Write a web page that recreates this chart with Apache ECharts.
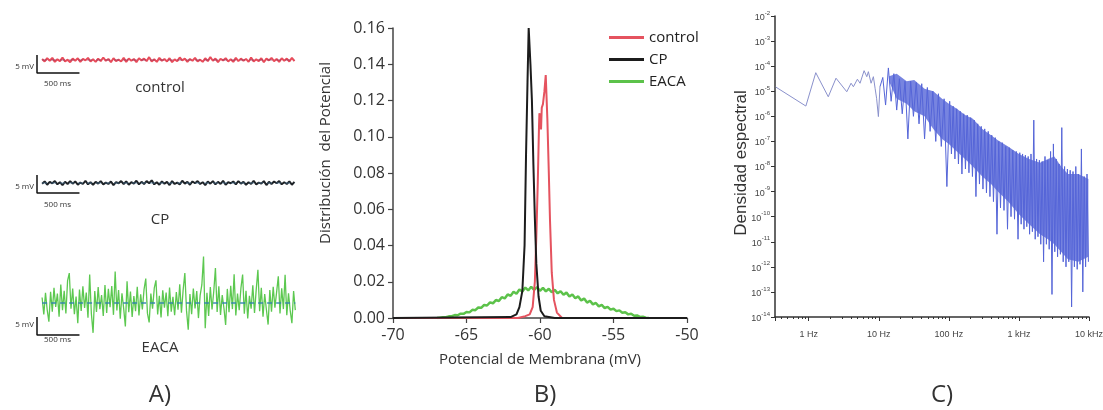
<!DOCTYPE html>
<html lang="es">
<head>
<meta charset="UTF-8">
<title>Potencial de membrana</title>
<script src="https://cdn.jsdelivr.net/npm/echarts@6/dist/echarts.min.js"></script>
<style>
  html, body { margin: 0; background: #fff; }
  #main { width: 1103px; height: 410px; }
</style>
</head>
<body>
<div id="main"></div>
<script>
// A) trazos de voltaje, mV respecto a la media (una muestra cada step ms)
var controlTrace = [
  0.3,-0.4,0.5,-0.2,0.6,-0.5,0.2,-0.3,0.7,-0.4,0.1,-0.6,0.4,-0.2,0.5,-0.5,0.3,-0.1,0.6,-0.4,
  0.2,-0.5,0.4,-0.3,0.7,-0.2,0.3,-0.6,0.5,-0.3,0.1,-0.4,0.6,-0.5,0.4,-0.2,0.3,-0.6,0.5,-0.1,
  0.4,-0.3,0.8,-0.4,0.2,-0.5,0.6,-0.2,0.3,-0.4,0.5,-0.6,0.2,-0.3,0.7,-0.1,0.4,-0.5,0.3,-0.2,
  0.6,-0.4,0.1,-0.5,0.5,-0.3,0.8,-0.2,0.4,-0.6,0.3,-0.1,0.5,-0.4,0.2,-0.5,0.6,-0.3,0.4,-0.2,
  0.3,-0.5,0.7,-0.4,0.2,-0.3,0.5,-0.6,0.4,-0.1,0.6,-0.3,0.3,-0.5,0.5,-0.2,0.4,-0.4,0.6,-0.3
];
var cpTrace = [
  -0.2,0.4,-0.5,0.3,-0.1,0.5,-0.4,0.2,-0.6,0.3,-0.3,0.5,-0.2,0.4,-0.5,0.1,-0.3,0.6,-0.4,0.2,
  -0.5,0.3,-0.2,0.5,-0.4,0.1,-0.3,0.4,-0.6,0.2,-0.1,0.5,-0.3,0.4,-0.5,0.2,-0.2,0.6,-0.4,0.3,
  -0.3,0.5,-0.1,0.7,-0.4,0.2,-0.5,0.4,-0.2,0.3,-0.6,0.5,-0.3,0.1,-0.4,0.6,-0.2,0.3,-0.5,0.4,
  -0.1,0.5,-0.3,0.2,-0.6,0.4,-0.2,0.5,-0.4,0.3,-0.3,0.6,-0.5,0.2,-0.1,0.4,-0.4,0.5,-0.2,0.3,
  -0.5,0.2,-0.3,0.6,-0.4,0.1,-0.2,0.5,-0.6,0.3,-0.3,0.4,-0.1,0.5,-0.4,0.2,-0.3,0.4,-0.5,0.3
];
var eacaTrace = [
  1.5,-3.2,2.8,-1.9,-5.2,3.1,-2.4,4.2,-1.1,2.6,-3.8,5.1,-2.0,3.4,-2.9,
  6.2,8.3,-1.6,4.0,-3.1,1.8,-5.6,3.7,-2.2,4.6,-1.4,2.9,-4.1,7.9,-3.0,
  -8.3,3.3,-2.5,4.4,-1.7,2.2,-3.6,5.0,-2.8,3.9,-1.2,4.7,-3.3,8.7,-2.1,
  3.6,-4.4,2.7,-1.5,-6.5,6.0,-2.6,3.2,-3.9,1.9,-2.3,4.5,-3.5,2.4,-1.8,
  3.8,6.8,-2.9,-5.4,2.6,-1.6,4.1,6.3,-3.2,2.0,-4.0,3.5,-1.3,2.9,-3.7,
  4.3,-2.4,1.7,-3.4,3.0,-1.9,5.2,-2.7,3.6,8.3,-2.2,-7.4,2.5,-3.1,4.0,
  -1.5,3.3,-4.2,2.1,5.0,12.9,-7.0,2.8,-3.6,4.4,-1.8,3.1,9.7,-2.5,4.6,
  -3.3,2.2,-1.4,-6.1,3.9,-2.6,4.8,-1.7,8.0,-3.5,2.6,-2.0,4.1,7.9,-3.0,
  3.4,-4.3,2.0,-1.6,4.9,-2.8,3.7,9.2,-2.3,4.2,-3.8,2.5,-1.9,-6.0,3.6,
  -2.4,4.5,-1.3,3.0,7.4,-2.9,4.1,-1.7,7.8,-3.4,2.7,-2.1,-5.6,3.3,-2.0
];
var traceNames = ['control', 'CP', 'EACA'];

// B) distribucion del potencial [mV, probabilidad]
var controlDist = [
  [-70,0],[-61.5,0],[-61.0,0.001],[-60.7,0.002],[-60.5,0.006],[-60.35,0.02],[-60.25,0.045],
  [-60.15,0.075],[-60.07,0.105],[-60.04,0.113],[-59.98,0.108],[-59.93,0.104],[-59.88,0.116],
  [-59.8,0.118],[-59.7,0.125],[-59.61,0.134],[-59.5,0.11],[-59.4,0.08],[-59.32,0.054],
  [-59.2,0.025],[-59.05,0.01],[-58.85,0.003],[-58.5,0],[-50,0]
];
var cpDist = [
  [-70,0],[-62,0.0005],[-61.6,0.002],[-61.4,0.006],[-61.2,0.015],[-61.05,0.04],[-60.95,0.09],
  [-60.85,0.13],[-60.77,0.16],[-60.65,0.14],[-60.55,0.12],[-60.45,0.085],[-60.35,0.055],
  [-60.25,0.03],[-60.1,0.012],[-59.95,0.004],[-59.7,0.001],[-59,0],[-50,0]
];
var eacaDist = [
  [-67.0,0.0000],[-66.8,0.0002],[-66.6,0.0004],[-66.4,0.0004],[-66.2,0.0009],[-66.0,0.0010],
  [-65.8,0.0016],[-65.6,0.0015],[-65.4,0.0024],[-65.2,0.0023],[-65.0,0.0033],[-64.8,0.0031],
  [-64.6,0.0045],[-64.4,0.0043],[-64.2,0.0058],[-64.0,0.0056],[-63.8,0.0072],[-63.6,0.0069],
  [-63.4,0.0086],[-63.2,0.0081],[-63.0,0.0099],[-62.8,0.0094],[-62.6,0.0115],[-62.4,0.0108],
  [-62.2,0.0130],[-62.0,0.0122],[-61.8,0.0145],[-61.6,0.0134],[-61.4,0.0157],[-61.2,0.0146],
  [-61.0,0.0168],[-60.8,0.0152],[-60.6,0.0172],[-60.4,0.0155],[-60.2,0.0170],[-60.0,0.0150],
  [-59.8,0.0166],[-59.6,0.0147],[-59.4,0.0161],[-59.2,0.0142],[-59.0,0.0156],[-58.8,0.0136],
  [-58.6,0.0148],[-58.4,0.0128],[-58.2,0.0140],[-58.0,0.0119],[-57.8,0.0130],[-57.6,0.0109],
  [-57.4,0.0119],[-57.2,0.0097],[-57.0,0.0107],[-56.8,0.0085],[-56.6,0.0095],[-56.4,0.0075],
  [-56.2,0.0083],[-56.0,0.0064],[-55.8,0.0072],[-55.6,0.0055],[-55.4,0.0061],[-55.2,0.0046],
  [-55.0,0.0051],[-54.8,0.0038],[-54.6,0.0042],[-54.4,0.0029],[-54.2,0.0032],[-54.0,0.0020],
  [-53.8,0.0023],[-53.6,0.0012],[-53.4,0.0014],[-53.2,0.0006],[-53.0,0.0007],[-52.8,0.0002],
  [-52.6,0.0000]
];

// C) densidad espectral [Hz, log10(densidad)]
var psdLow = [
  [0.338,-4.83],[0.91,-5.59],[1.26,-4.26],[1.9,-5.22],[2.45,-4.48],[3.49,-5.02],[4.02,-4.68],
  [4.34,-4.82],[4.95,-4.52],[5.4,-4.68],[6.17,-4.18],[6.74,-4.42],[7.1,-4.22],[7.76,-4.68],
  [8.37,-4.42],[8.85,-4.88],[9.3,-5.28],[9.87,-6.01],[10.4,-4.82]
];
var psdHigh = [
  [10.4,-4.82],
  [11.4,-4.45],[12.5,-5.55],[13.7,-4.07],[15.0,-5.4],[16.4,-4.3],[18.0,-5.75],[19.7,-4.5],
  [21.6,-5.9],[23.7,-4.6],[26.0,-6.9],[28.5,-4.6],[31.2,-6.0],[34.2,-4.65],[37.5,-6.3],
  [41.0,-4.7],[45.0,-6.9],[49.3,-4.85],[54.0,-6.6],[59.0,-5.0],[65.0,-7.0],[71.0,-5.1],
  [78.0,-7.2],[85.5,-5.3],[93.7,-8.8],[102.7,-5.4],
  [108.8,-7.5],[115.2,-5.6],[122,-7.7],[129.3,-5.7],[137,-7.9],[145,-5.8],[153.6,-8.3],
  [162.7,-5.9],[172.4,-8.1],[182.6,-5.95],[193.4,-8.25],[204.9,-6.05],[217,-8.4],[229.9,-6.15],
  [243.5,-9.2],[258,-6.3],[273.3,-8.7],[289.5,-6.4],[306.6,-8.9],[324.8,-6.5],[344,-9.05],
  [364.5,-6.6],[386,-9.2],[409,-6.75],[433,-9.4],[459,-6.85],[486,-10.7],[515,-7.0],
  [545.6,-9.65],[578,-7.05],[612,-9.75],[648.6,-7.2],[687,-10.5],[727.7,-7.25],[770.9,-10.0],
  [816.6,-7.35],[865,-10.1],[916,-7.4],[970.5,-10.9],[1028,-7.45],
  [1076,-10.3],[1127,-7.5],[1180,-10.5],[1236,-7.55],[1294,-10.4],[1355,-7.6],[1419,-10.7],
  [1486,-7.5],[1556,-10.6],[1629,-6.15],[1706,-10.9],[1786,-7.7],[1870,-10.8],[1958,-7.75],
  [2050,-11.1],[2147,-7.8],[2248,-11.8],[2354,-7.6],[2465,-11.1],[2581,-7.75],[2703,-11.3],
  [2830,-7.4],[2963,-13.1],[3103,-7.1],[3249,-11.4],[3402,-7.7],[3562,-11.6],[3730,-7.9],
  [3906,-11.5],[4090,-6.45],[4282,-11.8],[4484,-8.0],[4695,-12.0],[4917,-8.1],[5148,-11.8],
  [5391,-8.15],[5645,-13.6],[5911,-8.2],[6189,-12.0],[6481,-8.0],[6786,-12.1],[7106,-8.3],
  [7441,-11.9],[7791,-7.3],[8158,-13.0],[8543,-8.4],[8945,-12.0],[9367,-8.3],[9808,-11.8]
];
// bordes de la banda densa del espectro [Hz, log10(densidad)]
var psdCoreTop = [
  [14,-4.4],[18,-4.3],[25,-4.6],[32,-4.55],[45,-4.9],[60,-5.0],[80,-5.3],[100,-5.5],[130,-5.7],
  [170,-5.95],[220,-6.1],[300,-6.5],[400,-6.75],[500,-6.95],[700,-7.2],[1000,-7.5],[1400,-7.7],
  [2000,-7.85],[2600,-7.7],[3200,-7.6],[4000,-8.0],[5000,-8.3],[7000,-8.3],[9800,-8.5]
];
var psdCoreBottom = [
  [14,-4.6],[18,-5.3],[25,-5.5],[32,-5.8],[45,-6.0],[60,-6.5],[80,-6.9],[100,-7.1],[130,-7.4],
  [170,-7.7],[220,-8.0],[300,-8.4],[400,-8.7],[500,-9.0],[700,-9.4],[1000,-9.9],[1400,-10.3],
  [2000,-10.7],[2600,-10.9],[3200,-11.1],[4000,-11.4],[5000,-11.7],[7000,-11.8],[9800,-11.6]
];
var freqLabels = ['1 Hz', '10 Hz', '100 Hz', '1 kHz', '10 kHz'];

var FONT = 'Open Sans';
var chart = echarts.init(document.getElementById('main'));

// panel A: una rejilla por trazo
var traces = [
  { data: controlTrace, step: 30, base: 3.6, color: '#e84c5a', mean: '#8a3a66', width: 2, top: 51.4, h: 25.2, ymax: 6 },
  { data: cpTrace, step: 30, base: 2.8, color: '#1e2226', mean: '#4d7fa3', width: 2, top: 171.4, h: 25.2, ymax: 6 },
  { data: eacaTrace, step: 20, base: 8.9, color: '#5cc850', mean: '#2f7fb0', width: 1.3, top: 252.2, h: 86.4, ymax: 23 }
];
var grids = [], xAxes = [], yAxes = [], series = [], graphics = [];
var labelY = [[66.5, 83.5, 88], [186.5, 204.5, 220], [325, 340, 348]];

traces.forEach(function (t, k) {
  grids.push({ left: 37, top: t.top, width: 260, height: t.h, outerBoundsMode: 'none' });
  xAxes.push({ gridIndex: k, type: 'value', min: -60, max: 3000, show: false });
  yAxes.push({ gridIndex: k, type: 'value', min: -1, max: t.ymax, show: false });
  var end = (t.data.length - 1) * t.step;
  series.push({
    type: 'line', xAxisIndex: k, yAxisIndex: k, symbol: 'none', z: 2,
    lineStyle: { color: t.color, width: t.width },
    data: t.data.map(function (v, i) { return [i * t.step, v + t.base]; })
  });
  series.push({
    type: 'line', xAxisIndex: k, yAxisIndex: k, symbol: 'none', z: 3,
    lineStyle: { color: t.mean, width: 1.5, type: [5, 4], opacity: k === 2 ? 0.9 : 0.45 },
    data: [[0, t.base], [end, t.base]]
  });
  // barra de escala 5 mV / 500 ms
  series.push({
    type: 'line', xAxisIndex: k, yAxisIndex: k, symbol: 'none', z: 4,
    lineStyle: { color: '#111', width: 1.5 },
    data: [[-60, 5], [-60, 0], [440, 0]]
  });
  graphics.push({ type: 'text', x: 34, y: labelY[k][0], style: { text: '5 mV', font: '8px ' + FONT, fill: '#333', align: 'right', verticalAlign: 'middle' } });
  graphics.push({ type: 'text', x: 44, y: labelY[k][1], style: { text: '500 ms', font: '8px ' + FONT, fill: '#333', align: 'left', verticalAlign: 'middle' } });
  graphics.push({ type: 'text', x: 160, y: labelY[k][2], style: { text: traceNames[k], font: '15px ' + FONT, fill: '#333', align: 'center', verticalAlign: 'middle' } });
});

// panel B
grids.push({ left: 393, top: 28, width: 294, height: 290, outerBoundsMode: 'none' });
xAxes.push({
  gridIndex: 3, type: 'value', min: -70, max: -50, interval: 5,
  name: 'Potencial de Membrana (mV)', nameLocation: 'middle', nameGap: 34,
  nameTextStyle: { fontFamily: FONT, fontSize: 15, color: '#333' },
  axisLine: { lineStyle: { color: '#444', width: 1.5 } },
  axisTick: { length: 5, lineStyle: { color: '#444', width: 1.2 } },
  axisLabel: { fontFamily: FONT, fontSize: 16, color: '#333', margin: 9 },
  splitLine: { show: false }
});
yAxes.push({
  gridIndex: 3, type: 'value', min: 0, max: 0.16, interval: 0.02,
  axisLine: { show: true, lineStyle: { color: '#444', width: 1.5 } },
  axisTick: { show: true, length: 5, lineStyle: { color: '#444', width: 1.2 } },
  axisLabel: { fontFamily: FONT, fontSize: 16, color: '#333', margin: 8,
    formatter: function (v) { return v.toFixed(2); } },
  splitLine: { show: false }
});
series.push({ name: 'EACA', type: 'line', xAxisIndex: 3, yAxisIndex: 3, symbol: 'none',
  lineStyle: { color: '#5cc24a', width: 2.5 }, itemStyle: { color: '#5cc24a' }, data: eacaDist });
series.push({ name: 'control', type: 'line', xAxisIndex: 3, yAxisIndex: 3, symbol: 'none',
  lineStyle: { color: '#e5535f', width: 2 }, itemStyle: { color: '#e5535f' }, data: controlDist });
series.push({ name: 'CP', type: 'line', xAxisIndex: 3, yAxisIndex: 3, symbol: 'none',
  lineStyle: { color: '#1c1c1c', width: 2 }, itemStyle: { color: '#1c1c1c' }, data: cpDist });
graphics.push({ type: 'text', x: 326, y: 153, rotation: Math.PI / 2,
  style: { text: 'Distribución  del Potencial', font: '15px ' + FONT, fill: '#333', align: 'center', verticalAlign: 'middle' } });

// panel C
grids.push({ left: 775, top: 16, width: 314, height: 301, outerBoundsMode: 'none' });
xAxes.push({
  gridIndex: 4, type: 'log', logBase: 10, min: 0.33, max: 10000,
  axisLine: { lineStyle: { color: '#333', width: 1.5 } },
  axisTick: { length: 4, lineStyle: { color: '#333' } },
  minorTick: { show: true, splitNumber: 9, length: 2, lineStyle: { color: '#333' } },
  axisLabel: { fontFamily: 'Liberation Sans', fontSize: 9, color: '#444', margin: 13, showMinLabel: false,
    formatter: function (v) {
      var e = Math.round(Math.log10(v));
      return Math.abs(Math.log10(v) - e) < 1e-6 && e >= 0 ? freqLabels[e] : '';
    } },
  splitLine: { show: false }
});
yAxes.push({
  gridIndex: 4, type: 'log', logBase: 10, min: 1e-14, max: 1e-2, interval: 1,
  axisLine: { show: true, lineStyle: { color: '#333', width: 1.5 } },
  axisTick: { show: true, length: 4, lineStyle: { color: '#333' } },
  axisLabel: { fontFamily: 'Liberation Sans', color: '#444', margin: 5,
    formatter: function (v) { return '{b|10}{s|' + Math.round(Math.log10(v)) + '}'; },
    rich: {
      b: { fontSize: 9, lineHeight: 12, verticalAlign: 'bottom', color: '#444' },
      s: { fontSize: 6, lineHeight: 6, verticalAlign: 'top', color: '#444' }
    } },
  splitLine: { show: false }
});
function toDensity(p) { return [p[0], Math.pow(10, p[1])]; }
// nucleo denso de la banda: poligono entre los dos bordes
series.push({
  type: 'custom', xAxisIndex: 4, yAxisIndex: 4, data: [0], z: 2, silent: true,
  renderItem: function (params, api) {
    var pts = psdCoreTop.map(function (p) { return api.coord(toDensity(p)); });
    psdCoreBottom.slice().reverse().forEach(function (p) { pts.push(api.coord(toDensity(p))); });
    return { type: 'polygon', shape: { points: pts }, style: { fill: '#4a5bd6', opacity: 0.75 } };
  }
});
series.push({
  type: 'line', xAxisIndex: 4, yAxisIndex: 4, symbol: 'none', z: 3,
  lineStyle: { color: '#8a91cc', width: 1 },
  data: psdLow.map(toDensity)
});
series.push({
  type: 'line', xAxisIndex: 4, yAxisIndex: 4, symbol: 'none', z: 3,
  lineStyle: { color: '#5565d8', width: 1 },
  data: psdHigh.map(toDensity)
});
graphics.push({ type: 'text', x: 741, y: 163, rotation: Math.PI / 2,
  style: { text: 'Densidad espectral', font: '17px Liberation Sans', fill: '#333', align: 'center', verticalAlign: 'middle' } });

// letras de panel
[['A)', 160], ['B)', 545], ['C)', 942]].forEach(function (p) {
  graphics.push({ type: 'text', x: p[1], y: 395,
    style: { text: p[0], font: '24px ' + FONT, fill: '#333', align: 'center', verticalAlign: 'middle' } });
});

chart.setOption({
  animation: false,
  backgroundColor: '#fff',
  legend: {
    data: ['control', 'CP', 'EACA'], orient: 'vertical', left: 604, top: 25,
    icon: 'rect', itemWidth: 35, itemHeight: 3, itemGap: 7, selectedMode: false,
    textStyle: { fontFamily: FONT, fontSize: 15, color: '#222' }
  },
  grid: grids,
  xAxis: xAxes,
  yAxis: yAxes,
  series: series,
  graphic: graphics
});
</script>
</body>
</html>
